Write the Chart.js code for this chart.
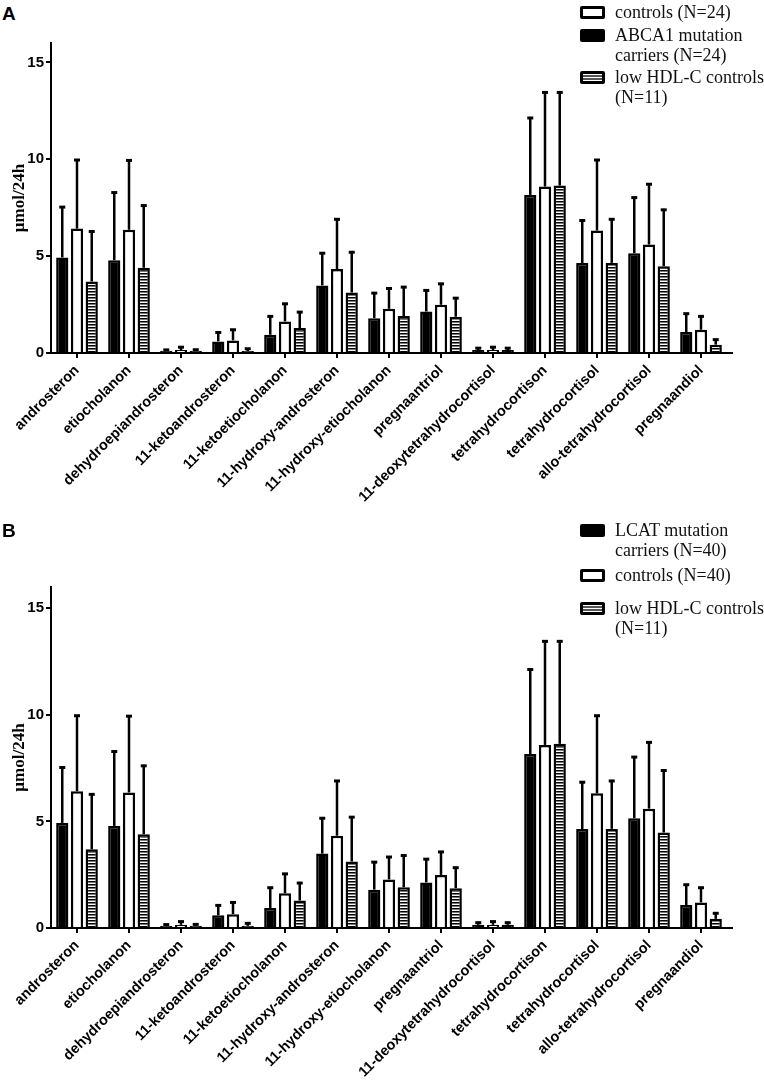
<!DOCTYPE html>
<html lang="en">
<head>
<meta charset="UTF-8" />
<title>Urinary steroid excretion</title>
<script src="https://cdn.jsdelivr.net/npm/chart.js@4.4.0/dist/chart.umd.min.js"></script>
<style>
  body { margin: 0; background: #fff; width: 764px; height: 1092px; position: relative; overflow: hidden; }
  canvas { position: absolute; left: 0; }
  .letter { position: absolute; left: 2px; font: bold 19px/22px "Liberation Sans", Arial, sans-serif; color: #000; }
  .item { position: absolute; left: 580px; white-space: nowrap; font: 18px/20px "Liberation Serif", "Times New Roman", serif; color: #111; }
  .box { position: absolute; left: 0; top: 4px; width: 25px; height: 13px; box-sizing: border-box; border: 3px solid #000; border-radius: 2px; background: #fff; }
  .box.black { background: #000; }
  .box.striped { background: repeating-linear-gradient(#fff 0, #fff 1.5px, #555 1.5px, #555 3px); }
  .txt { margin-left: 35px; }
</style>
</head>
<body>
<div class="letter" style="top:3px">A</div>
<canvas id="chartA" width="764" height="530" style="top:0"></canvas>
<div class="item" style="top:2px"><span class="box"></span><div class="txt">controls (N=24)</div></div>
<div class="item" style="top:25px"><span class="box black"></span><div class="txt">ABCA1 mutation<br>carriers (N=24)</div></div>
<div class="item" style="top:67px"><span class="box striped"></span><div class="txt">low HDL-C controls<br>(N=11)</div></div>

<div class="letter" style="top:520px">B</div>
<canvas id="chartB" width="764" height="562" style="top:530px"></canvas>
<div class="item" style="top:520px"><span class="box black"></span><div class="txt">LCAT mutation<br>carriers (N=40)</div></div>
<div class="item" style="top:565px"><span class="box"></span><div class="txt">controls (N=40)</div></div>
<div class="item" style="top:598px"><span class="box striped"></span><div class="txt">low HDL-C controls<br>(N=11)</div></div>

<script>
const steroids = ['androsteron', 'etiocholanon', 'dehydroepiandrosteron', '11-ketoandrosteron',
  '11-ketoetiocholanon', '11-hydroxy-androsteron', '11-hydroxy-etiocholanon', 'pregnaantriol',
  '11-deoxytetrahydrocortisol', 'tetrahydrocortison', 'tetrahydrocortisol',
  'allo-tetrahydrocortisol', 'pregnaandiol']

// mutation carriers (black bars)
const carriersMean = [4.93, 4.79, 0.10, 0.60, 0.94, 3.49, 1.80, 2.14, 0.15, 8.16, 4.64, 5.15, 1.08]
const carriersSD   = [2.60, 3.49, 0.06, 0.46, 0.95, 1.66, 1.29, 1.09, 0.10, 3.97, 2.20, 2.87, 0.95]
// controls (white bars)
const controlsMean = [6.42, 6.36, 0.15, 0.65, 1.63, 4.33, 2.28, 2.49, 0.15, 8.59, 6.32, 5.60, 1.20]
const controlsSD   = [3.54, 3.58, 0.15, 0.55, 0.91, 2.57, 1.05, 1.08, 0.15, 4.86, 3.64, 3.11, 0.69]
// low HDL-C controls (striped bars)
const lowHdlMean   = [3.69, 4.40, 0.10, 0.10, 1.29, 3.12, 1.91, 1.87, 0.15, 8.64, 4.65, 4.48, 0.43]
const lowHdlSD     = [2.58, 3.21, 0.07, 0.12, 0.82, 2.08, 1.49, 0.96, 0.10, 4.81, 2.25, 2.91, 0.26]

const yTicks = [0, 5, 10, 15]
const yTitle = 'µmol/24h'

function stripes() {
  const c = document.createElement('canvas')
  c.width = 4; c.height = 3
  const g = c.getContext('2d')
  g.fillStyle = '#fff'; g.fillRect(0, 0, 4, 3)
  g.fillStyle = '#000'; g.fillRect(0, 0, 4, 1)
  g.fillStyle = '#777'; g.fillRect(0, 1, 4, 1)
  return g.createPattern(c, 'repeat')
}

// upper-only SD whiskers with a small cap
const errorBars = {
  id: 'errorBars',
  afterDatasetsDraw(chart) {
    const ctx = chart.ctx, y = chart.scales.y
    ctx.save()
    ctx.strokeStyle = '#000'
    chart.data.datasets.forEach((ds, i) => {
      chart.getDatasetMeta(i).data.forEach((bar, j) => {
        const top = y.getPixelForValue(ds.data[j] + ds.sd[j])
        ctx.lineWidth = 2.5
        ctx.beginPath()
        ctx.moveTo(bar.x, bar.y)
        ctx.lineTo(bar.x, top)
        ctx.stroke()
        ctx.lineWidth = 3
        ctx.beginPath()
        ctx.moveTo(bar.x - 3, top)
        ctx.lineTo(bar.x + 3, top)
        ctx.stroke()
      })
    })
    ctx.restore()
  }
}

// x axis line runs a little past the last category
const axisTail = {
  id: 'axisTail',
  afterDraw(chart) {
    const { ctx, chartArea } = chart
    ctx.save()
    ctx.strokeStyle = '#000'
    ctx.lineWidth = 2
    ctx.beginPath()
    ctx.moveTo(chartArea.right - 1, chartArea.bottom)
    ctx.lineTo(chartArea.right + 6, chartArea.bottom)
    ctx.stroke()
    ctx.restore()
  }
}

const tickFont = { family: '"Liberation Sans", Arial, sans-serif', weight: 'bold' }

function makeChart(id, padTop, xHeight) {
  return new Chart(document.getElementById(id), {
    type: 'bar',
    data: {
      labels: steroids,
      datasets: [
        { data: carriersMean, sd: carriersSD, backgroundColor: '#000', borderColor: '#000', borderWidth: 2.5 },
        { data: controlsMean, sd: controlsSD, backgroundColor: '#fff', borderColor: '#000', borderWidth: 2.5 },
        { data: lowHdlMean, sd: lowHdlSD, backgroundColor: stripes(), borderColor: '#000', borderWidth: 2.5 },
      ],
    },
    options: {
      responsive: false,
      animation: false,
      categoryPercentage: 0.85,
      barPercentage: 0.83,
      layout: { padding: { top: padTop, right: 37, left: 0, bottom: 0 } },
      plugins: { legend: { display: false }, tooltip: { enabled: false } },
      scales: {
        x: {
          afterFit(s) { s.height = xHeight },
          border: { color: '#000', width: 2 },
          grid: { drawOnChartArea: false, offset: false, color: '#000', lineWidth: 2, tickLength: 5 },
          ticks: { autoSkip: false, minRotation: 45, maxRotation: 45, padding: 4, color: '#000',
                   font: { ...tickFont, size: 14.5 } },
        },
        y: {
          min: 0,
          max: 16,
          afterFit(s) { s.width = 51 },
          afterBuildTicks(s) { s.ticks = yTicks.map(v => ({ value: v })) },
          border: { color: '#000', width: 2 },
          grid: { drawOnChartArea: false, color: '#000', lineWidth: 2, tickLength: 5 },
          ticks: { stepSize: 5, includeBounds: false, padding: 2, color: '#000',
                   font: { ...tickFont, size: 15 } },
          title: { display: true, text: yTitle, color: '#000', padding: { top: 9, bottom: 0 },
                   font: { family: '"Liberation Serif", "Times New Roman", serif', weight: 'bold', size: 17 } },
        },
      },
    },
    plugins: [errorBars, axisTail],
  })
}

makeChart('chartA', 43, 177)
makeChart('chartB', 57, 164)
</script>
</body>
</html>
